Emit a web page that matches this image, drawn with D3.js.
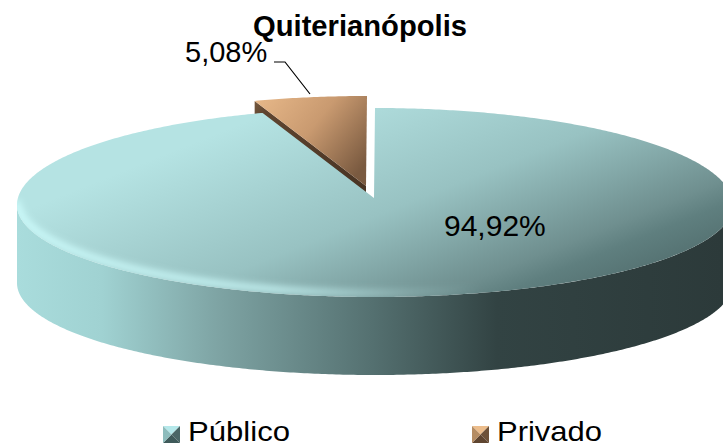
<!DOCTYPE html>
<html>
<head>
<meta charset="utf-8">
<script src="https://cdn.jsdelivr.net/npm/d3@7"></script>
<style>
html, body { margin: 0; padding: 0; background: #fff; overflow: hidden; }
text { font-family: "Liberation Sans", Arial, sans-serif; fill: #000; }
</style>
</head>
<body>
<svg id="chart" width="723" height="447"></svg>
<script>
const categories = ['Público', 'Privado'];
const values = [94.92, 5.08];
const labels = ['94,92%', '5,08%'];
const chartTitle = 'Quiterianópolis';

const width = 723, height = 447;
// the disc is drawn in perspective: front half bulges more than the back half
const cx = 375, cy = 205, rx = 358, ryBack = 97, ryFront = 92, depth = 78;
const apex = [374, 198];
const explode = { x: -8, y: -12 };

const svg = d3.select('#chart');
const defs = svg.append('defs');

function addGradient(id, x1, y1, x2, y2, stops) {
    const g = defs.append('linearGradient')
        .attr('id', id)
        .attr('gradientUnits', 'userSpaceOnUse')
        .attr('x1', x1).attr('y1', y1).attr('x2', x2).attr('y2', y2);
    stops.forEach(s => {
        g.append('stop')
            .attr('offset', s[0])
            .attr('stop-color', s[1])
            .attr('stop-opacity', s[2] === undefined ? 1 : s[2]);
    });
}

addGradient('topFill', 100, 110, 238, 455, [[0.175, '#b5e3e3'], [0.54, '#98c2c2'], [0.8, '#6f8f8f'], [0.86, '#5f7f7f'], [1, '#4f6a6a']]);
addGradient('sideFill', 17, 0, 723, 0, [[0, '#a9dcdc'], [0.12, '#a0d2d2'], [0.28, '#7fa5a5'], [0.5, '#557171'], [0.68, '#324343'], [1, '#2c3a3a']]);
addGradient('rimFill', 17, 0, 733, 0, [[0, '#d0ffff', 0.9], [0.36, '#d0ffff', 0.8], [0.55, '#d0ffff', 0.2], [0.65, '#d0ffff', 0]]);
addGradient('sliceTop', 270, 100, 370, 180, [[0, '#e8b98a'], [0.5, '#c99a70'], [1, '#7a5a40']]);
addGradient('sliceCut', 255, 100, 367, 190, [[0, '#8a6a4a'], [0.2, '#5f4530'], [1, '#4a3524']]);

const blur = defs.append('filter').attr('id', 'rimBlur')
    .attr('x', '-10%').attr('y', '-30%').attr('width', '120%').attr('height', '160%');
blur.append('feGaussianBlur').attr('stdDeviation', 3.5);

const pie = d3.pie().sort(null).startAngle(0).endAngle(2 * Math.PI);
const slices = pie(values);
const line = d3.line();

// put a pie angle on the tilted disc
function project(a, dy) {
    const c = Math.cos(a);
    return [cx + rx * Math.sin(a), cy - (c > 0 ? ryBack : ryFront) * c + (dy || 0)];
}
function rimPoints(a0, a1, dy) {
    return d3.range(a0, a1, 0.01).concat([a1]).map(a => project(a, dy));
}

// exploded slice first, the big one sits in front of it
const sliceGroup = svg.append('g').attr('transform', `translate(${explode.x},${explode.y})`);
const cutAngle = slices[1].startAngle;
sliceGroup.append('path')
    .attr('d', line([apex, project(cutAngle), project(cutAngle, depth), [apex[0], apex[1] + depth]]) + 'Z')
    .attr('fill', 'url(#sliceCut)');
sliceGroup.append('path')
    .attr('d', line([apex].concat(rimPoints(slices[1].startAngle, slices[1].endAngle))) + 'Z')
    .attr('fill', 'url(#sliceTop)');

// front wall of the disc
const frontTop = rimPoints(Math.PI / 2, 3 * Math.PI / 2);
const frontBottom = rimPoints(Math.PI / 2, 3 * Math.PI / 2, depth).reverse();
svg.append('path')
    .attr('d', line(frontTop.concat(frontBottom)) + 'Z')
    .attr('fill', 'url(#sideFill)');

// top face
const topPath = line([apex].concat(rimPoints(slices[0].startAngle, slices[0].endAngle))) + 'Z';
svg.append('clipPath').attr('id', 'topClip').append('path').attr('d', topPath);
svg.append('path').attr('d', topPath).attr('fill', 'url(#topFill)');

// soft bevel along the front rim
svg.append('g').attr('clip-path', 'url(#topClip)')
    .append('path')
    .attr('d', line(rimPoints(Math.PI / 2, 3 * Math.PI / 2, -4)))
    .attr('fill', 'none')
    .attr('stroke', 'url(#rimFill)')
    .attr('stroke-width', 7)
    .attr('filter', 'url(#rimBlur)');

// title and labels
svg.append('text')
    .attr('x', 360).attr('y', 36)
    .attr('text-anchor', 'middle')
    .attr('font-size', 29).attr('font-weight', 'bold')
    .attr('textLength', 214).attr('lengthAdjust', 'spacingAndGlyphs')
    .text(chartTitle);

svg.append('text')
    .attr('x', 444).attr('y', 236)
    .attr('font-size', 30)
    .text(labels[0]);

svg.append('text')
    .attr('x', 185).attr('y', 62)
    .attr('font-size', 29)
    .text(labels[1]);

svg.append('path')
    .attr('d', line([[274, 62], [285, 62], [310, 94]]))
    .attr('fill', 'none')
    .attr('stroke', '#000')
    .attr('stroke-width', 1.2);

// legend
const legendColors = [
    ['#b5e8ea', '#8dbcbc', '#4a6666', '#3f5a5a'],
    ['#ecbd8c', '#b58c62', '#6e5138', '#5f4530']
];
const legendX = d3.scaleOrdinal().domain(categories).range([163, 472]);
const legendY = 426, box = 17;

const legend = svg.selectAll('g.legend')
    .data(categories)
    .enter().append('g')
    .attr('class', 'legend')
    .attr('transform', d => `translate(${legendX(d)},${legendY})`);

legend.each(function(d, i) {
    const g = d3.select(this);
    const c = [box / 2, box / 2];
    const corners = [[0, 0], [box, 0], [box, box], [0, box]];
    // top, right, bottom, left
    [0, 2, 3, 1].forEach((colorIdx, k) => {
        g.append('path')
            .attr('d', line([corners[k], corners[(k + 1) % 4], c]) + 'Z')
            .attr('fill', legendColors[i][colorIdx]);
    });
});

legend.append('text')
    .attr('x', 25)
    .attr('y', 15)
    .attr('font-size', 28.5)
    .attr('textLength', (d, i) => [102, 105][i])
    .attr('lengthAdjust', 'spacingAndGlyphs')
    .text(d => d);
</script>
</body>
</html>
